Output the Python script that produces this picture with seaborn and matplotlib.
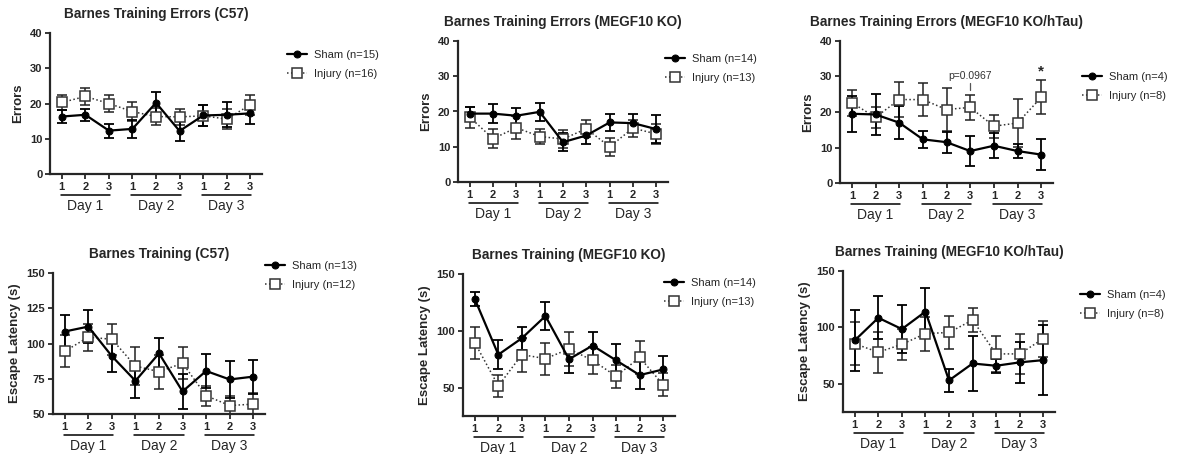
import matplotlib
matplotlib.use('Agg')
import matplotlib.pyplot as plt
import seaborn as sns
from matplotlib.transforms import blended_transform_factory

# x axis: 3 trials on each of 3 days
TRIAL_LABELS = ['1', '2', '3'] * 3
DAYS = ['Day 1', 'Day 2', 'Day 3']
POSITIONS = list(range(9))

# Barnes training errors (mean, SEM)
c57_err_sham = [16.3, 16.8, 12.3, 12.8, 20.2, 12.2, 16.6, 16.8, 17.2]
c57_err_sham_sem = [1.8, 1.7, 2.0, 2.6, 3.2, 2.8, 3.0, 3.5, 3.0]
c57_err_inj = [20.3, 22.0, 20.0, 17.7, 16.3, 16.2, 16.5, 15.6, 19.6]
c57_err_inj_sem = [2.2, 2.3, 2.3, 2.8, 2.3, 2.3, 3.0, 2.7, 2.8]

ko_err_sham = [19.4, 19.4, 18.8, 19.9, 11.3, 13.2, 16.9, 16.7, 15.0]
ko_err_sham_sem = [2.0, 2.7, 2.3, 2.5, 2.5, 2.5, 2.4, 2.5, 4.0]
ko_err_inj = [18.4, 12.3, 15.4, 12.9, 12.2, 15.1, 10.0, 15.3, 13.6]
ko_err_inj_sem = [3.0, 2.7, 3.3, 2.2, 2.6, 2.4, 2.6, 2.4, 2.8]

tau_err_sham = [19.5, 19.3, 17.0, 12.3, 11.5, 9.0, 10.5, 9.0, 8.0]
tau_err_sham_sem = [5.0, 5.8, 4.6, 2.3, 3.0, 4.1, 3.5, 2.0, 4.4]
tau_err_inj = [22.6, 18.5, 23.5, 23.5, 20.7, 21.3, 16.0, 16.9, 24.1]
tau_err_inj_sem = [3.7, 3.0, 4.9, 4.6, 6.1, 3.5, 3.2, 6.7, 4.8]

# Barnes training escape latency (s)
c57_lat_sham = [108.5, 112.0, 91.0, 73.5, 93.0, 66.0, 80.5, 74.5, 76.5]
c57_lat_sham_sem = [11.5, 11.5, 11.5, 12.0, 11.0, 12.5, 12.0, 13.0, 12.0]
c57_lat_inj = [94.5, 104.5, 103.0, 84.0, 80.0, 86.0, 63.0, 56.0, 57.0]
c57_lat_inj_sem = [11.5, 9.5, 11.0, 13.5, 12.0, 11.5, 7.0, 6.5, 8.0]

ko_lat_sham = [128.0, 79.0, 93.5, 113.0, 75.0, 87.0, 74.0, 61.0, 66.0]
ko_lat_sham_sem = [6.0, 13.0, 10.0, 12.0, 12.0, 12.0, 14.0, 12.0, 12.0]
ko_lat_inj = [89.5, 51.5, 79.0, 75.5, 84.0, 74.0, 60.0, 76.5, 52.5]
ko_lat_inj_sem = [14.0, 10.0, 15.0, 14.0, 15.0, 12.0, 10.0, 14.5, 10.0]

tau_lat_sham = [88.5, 108.5, 98.5, 114.0, 53.0, 68.0, 66.0, 69.0, 71.0]
tau_lat_sham_sem = [27.0, 19.0, 21.0, 21.0, 10.5, 24.0, 6.0, 18.0, 31.0]
tau_lat_inj = [85.5, 78.0, 85.0, 94.5, 95.5, 106.5, 76.5, 76.5, 90.0]
tau_lat_inj_sem = [19.0, 18.0, 14.0, 15.0, 15.0, 11.0, 16.0, 18.0, 16.0]

W, H = 1187, 454


def px_box(left, top, right, bottom):
    return [left / W, 1 - bottom / H, (right - left) / W, (bottom - top) / H]


panels = [
    dict(title='Barnes Training Errors (C57)', ylabel='Errors', ylim=(0, 40), yticks=[0, 10, 20, 30, 40],
         sham=(c57_err_sham, c57_err_sham_sem), inj=(c57_err_inj, c57_err_inj_sem), n=(15, 16),
         box=(50, 33, 262, 174), leg=(287, 50)),
    dict(title='Barnes Training Errors (MEGF10 KO)', ylabel='Errors', ylim=(0, 40), yticks=[0, 10, 20, 30, 40],
         sham=(ko_err_sham, ko_err_sham_sem), inj=(ko_err_inj, ko_err_inj_sem), n=(14, 13),
         box=(458, 41, 668, 182), leg=(665, 54)),
    dict(title='Barnes Training Errors (MEGF10 KO/hTau)', ylabel='Errors', ylim=(0, 40), yticks=[0, 10, 20, 30, 40],
         sham=(tau_err_sham, tau_err_sham_sem), inj=(tau_err_inj, tau_err_inj_sem), n=(4, 8),
         box=(840, 41, 1053, 183), leg=(1082, 72)),
    dict(title='Barnes Training (C57)', ylabel='Escape Latency (s)', ylim=(50, 150), yticks=[50, 75, 100, 125, 150],
         sham=(c57_lat_sham, c57_lat_sham_sem), inj=(c57_lat_inj, c57_lat_inj_sem), n=(13, 12),
         box=(53, 273, 265, 414), leg=(265, 261)),
    dict(title='Barnes Training (MEGF10 KO)', ylabel='Escape Latency (s)', ylim=(25, 150), yticks=[50, 100, 150],
         sham=(ko_lat_sham, ko_lat_sham_sem), inj=(ko_lat_inj, ko_lat_inj_sem), n=(14, 13),
         box=(463, 274, 675, 416), leg=(664, 278)),
    dict(title='Barnes Training (MEGF10 KO/hTau)', ylabel='Escape Latency (s)', ylim=(25, 150), yticks=[50, 100, 150],
         sham=(tau_lat_sham, tau_lat_sham_sem), inj=(tau_lat_inj, tau_lat_inj_sem), n=(4, 8),
         box=(843, 271, 1055, 412), leg=(1080, 290)),
]

sns.set_style('ticks')
plt.rcParams['font.family'] = ['Liberation Sans', 'DejaVu Sans']

fig = plt.figure(figsize=(W / 100, H / 100), dpi=100)

for p in panels:
    ax = fig.add_axes(px_box(*p['box']))
    sham_mean, sham_sem = p['sham']
    inj_mean, inj_sem = p['inj']

    ax.errorbar(POSITIONS, inj_mean, yerr=inj_sem, fmt='none', ecolor='#222222',
                elinewidth=1.1, capsize=3.5, capthick=1.1, zorder=2)
    ax.errorbar(POSITIONS, sham_mean, yerr=sham_sem, fmt='none', ecolor='black',
                elinewidth=1.3, capsize=3.5, capthick=1.3, zorder=3)

    sns.lineplot(x=POSITIONS, y=sham_mean, ax=ax, color='black', lw=1.6, marker='o',
                 markersize=5, markeredgecolor='black', label=f'Sham (n={p["n"][0]})', zorder=5)
    sns.lineplot(x=POSITIONS, y=inj_mean, ax=ax, color='#333333', lw=1.1, linestyle=(0, (1, 1.6)),
                 marker='s', markersize=6.5, markerfacecolor='white', markeredgecolor='#333333',
                 markeredgewidth=1.1, label=f'Injury (n={p["n"][1]})', zorder=4)

    ax.set_xlim(-0.5, 8.5)
    ax.set_ylim(*p['ylim'])
    ax.set_yticks(p['yticks'])
    ax.set_xticks(POSITIONS)
    ax.set_xticklabels(TRIAL_LABELS)
    for lbl in ax.get_xticklabels() + ax.get_yticklabels():
        lbl.set_fontweight('bold')
        lbl.set_fontsize(8)
    ax.tick_params(axis='both', length=3.5, width=1.3, pad=2)
    sns.despine(ax=ax)
    for side in ['left', 'bottom']:
        ax.spines[side].set_linewidth(1.6)

    ax.set_xlabel('')
    ax.set_ylabel(p['ylabel'], fontsize=9.5, fontweight='bold', labelpad=4)
    ax.set_title(p['title'], fontsize=9.8, fontweight='bold', pad=11)

    # day brackets under the trial numbers
    trans = blended_transform_factory(ax.transData, ax.transAxes)
    for d, day in enumerate(DAYS):
        ax.plot([3 * d - 0.05, 3 * d + 2.05], [-0.148, -0.148], transform=trans, color='black',
                lw=1.1, clip_on=False)
        ax.text(3 * d + 1, -0.225, day, transform=trans, ha='center', va='center', fontsize=10)

    lx, ly = p['leg']
    ax.legend(loc='upper left', bbox_to_anchor=(lx / W, 1 - ly / H), bbox_transform=fig.transFigure,
              frameon=False, fontsize=8, handlelength=1.8, handletextpad=0.6, labelspacing=0.8,
              borderaxespad=0, borderpad=0)

    if 'hTau' in p['title'] and p['ylabel'] == 'Errors':
        ax.text(5, 30.2, 'p=0.0967', ha='center', va='center', fontsize=7.5, color='#333333')
        ax.plot([5, 5], [26.3, 28.2], color='#555555', lw=0.9)
        ax.text(8, 31.5, '*', ha='center', va='center', fontsize=11, fontweight='bold')

fig.savefig('out.png', dpi=100)
